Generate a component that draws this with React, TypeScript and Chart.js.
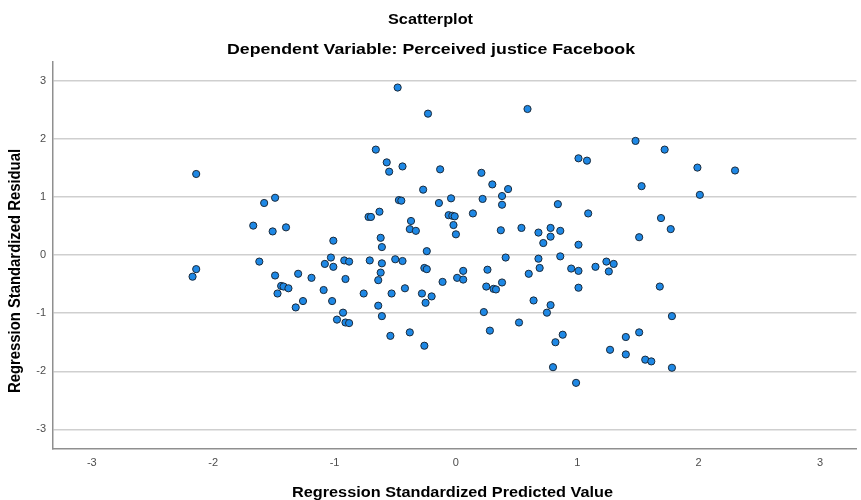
import React, { useEffect, useRef } from "react";
import { Chart, registerables } from "chart.js";

Chart.register(...registerables);

// Regression standardized predicted values (x) and residuals (y)
const predicted: number[] = [
  -2.17, -2.14, -2.14, -1.67, -1.62, -1.58, -1.51, -1.49, -1.49, -1.47,
  -1.44, -1.42, -1.40, -1.38, -1.32, -1.30, -1.26, -1.19, -1.09, -1.08,
  -1.03, -1.02, -1.01, -1.01, -0.98, -0.93, -0.92, -0.91, -0.91, -0.88,
  -0.88, -0.76, -0.72, -0.70, -0.71, -0.66, -0.64, -0.64, -0.63, -0.62,
  -0.62, -0.61, -0.61, -0.61, -0.57, -0.55, -0.54, -0.53, -0.50, -0.48,
  -0.47, -0.45, -0.44, -0.44, -0.42, -0.38, -0.38, -0.37, -0.33, -0.28,
  -0.27, -0.26, -0.26, -0.25, -0.24, -0.24, -0.23, -0.20, -0.14, -0.13,
  -0.11, -0.06, -0.04, -0.03, -0.02, -0.01, 0.00, 0.01, 0.06, 0.06,
  0.14, 0.21, 0.22, 0.23, 0.25, 0.26, 0.28, 0.30, 0.31, 0.33,
  0.37, 0.38, 0.38, 0.38, 0.41, 0.43, 0.52, 0.54, 0.59, 0.60,
  0.64, 0.68, 0.68, 0.69, 0.72, 0.75, 0.78, 0.78, 0.78, 0.80,
  0.82, 0.84, 0.86, 0.86, 0.88, 0.95, 0.99, 1.01, 1.01, 1.01,
  1.01, 1.08, 1.09, 1.15, 1.24, 1.26, 1.30, 1.27, 1.40, 1.40,
  1.48, 1.51, 1.51, 1.53, 1.56, 1.61, 1.68, 1.69, 1.72, 1.77,
  1.78, 1.78, 1.99, 2.01, 2.30,
];
const residual: number[] = [
  -0.37, -0.24, 1.40, 0.51, -0.11, 0.90, 0.41, 0.99, -0.35, -0.66,
  -0.53, -0.54, 0.48, -0.57, -0.90, -0.32, -0.79, -0.39, -0.60, -0.15,
  -0.04, -0.79, 0.25, -0.20, -1.11, -0.99, -0.09, -1.16, -0.41, -0.11,
  -1.17, -0.66, 0.66, 0.66, -0.09, 1.82, -0.43, -0.87, 0.75, 0.30,
  -0.30, 0.14, -0.14, -1.05, 1.60, 1.44, -1.39, -0.66, -0.07, 2.89,
  0.95, 0.94, 1.53, -0.10, -0.57, 0.45, -1.33, 0.59, 0.42, -0.66,
  1.13, -0.22, -1.56, -0.82, -0.24, 0.07, 2.44, -0.71, 0.90, 1.48,
  -0.46, 0.69, 0.98, 0.68, 0.52, 0.67, 0.36, -0.39, -0.27, -0.42,
  0.72, 1.42, 0.97, -0.98, -0.54, -0.25, -1.30, 1.22, -0.58, -0.59,
  0.43, 1.02, 0.87, -0.47, -0.04, 1.14, -1.16, 0.47, 2.52, -0.32,
  -0.78, 0.39, -0.06, -0.22, 0.21, -0.99, 0.47, 0.32, -0.86, -1.93,
  -1.50, 0.88, 0.42, -0.02, -1.37, -0.23, -2.20, 1.67, 0.18, -0.27,
  -0.56, 1.63, 0.72, -0.20, -0.11, -0.28, -0.15, -1.63, -1.41, -1.71,
  1.97, 0.31, -1.33, 1.19, -1.80, -1.83, -0.54, 0.64, 1.82, 0.45,
  -1.05, -1.94, 1.51, 1.04, 1.46,
];

const xTicks: number[] = [-3, -2, -1, 0, 1, 2, 3];
const yTicks: number[] = [-3, -2, -1, 0, 1, 2, 3];

const titleText = "Scatterplot";
const subtitleText = "Dependent Variable: Perceived justice Facebook";
const xTitleText = "Regression Standardized Predicted Value";
const yTitleText = "Regression Standardized Residual";

const FONT = '"Liberation Sans", Arial, sans-serif';

const textPlugin = {
  id: "stretchedTitles",
  afterDraw(chart: any) {
    const ctx: CanvasRenderingContext2D = chart.ctx;
    const drawH = (text: string, cx: number, baseY: number, size: number, targetW: number) => {
      ctx.save();
      ctx.font = `bold ${size}px ${FONT}`;
      ctx.fillStyle = "#000000";
      ctx.textAlign = "center";
      ctx.textBaseline = "alphabetic";
      const w = ctx.measureText(text).width;
      ctx.translate(cx, baseY);
      ctx.scale(targetW / w, 1);
      ctx.fillText(text, 0, 0);
      ctx.restore();
    };
    drawH(titleText, 430.5, 23.5, 14.5, 85);
    drawH(subtitleText, 431, 54, 14.5, 408);
    drawH(xTitleText, 452.5, 497, 14.5, 321);

    // rotated y title, glyphs widened horizontally like the reference
    ctx.save();
    ctx.font = `bold 14.5px ${FONT}`;
    ctx.fillStyle = "#000000";
    ctx.textAlign = "center";
    ctx.textBaseline = "alphabetic";
    const w = ctx.measureText(yTitleText).width;
    ctx.translate(19.5, 271);
    ctx.scale(1.15, 1);
    ctx.rotate(-Math.PI / 2);
    ctx.scale(244 / w, 1);
    ctx.fillText(yTitleText, 0, 0);
    ctx.restore();
  },
};

export default function App() {
  const ref = useRef<HTMLCanvasElement | null>(null);

  useEffect(() => {
    document.body.style.margin = "0";
    const canvas = ref.current;
    if (!canvas) return;
    const points = predicted.map((x, i) => ({ x, y: residual[i] }));
    const chart = new Chart(canvas, {
      type: "scatter",
      data: {
        datasets: [
          {
            data: points,
            pointRadius: 3.6,
            pointHoverRadius: 3.6,
            pointBorderWidth: 1,
            pointBackgroundColor: "#1e88e5",
            pointBorderColor: "#1b2a3a",
          },
        ],
      },
      options: {
        responsive: false,
        animation: false,
        devicePixelRatio: 1,
        layout: { padding: { top: 62, right: 0, left: 0, bottom: 0 } },
        plugins: {
          legend: { display: false },
          tooltip: { enabled: false },
          title: { display: false },
        },
        scales: {
          x: {
            type: "linear",
            min: -3.32,
            max: 3.3,
            afterBuildTicks: (s: any) => {
              s.ticks = xTicks.map((v) => ({ value: v }));
            },
            afterFit: (s: any) => {
              s.height = 51;
              s.paddingLeft = 0;
              s.paddingRight = 0;
            },
            grid: { display: false, drawTicks: false },
            border: { display: true, color: "#8f8f8f", width: 1.5 },
            ticks: {
              padding: 7,
              color: "#4d4d4d",
              font: { family: FONT, size: 11 },
              maxRotation: 0,
              autoSkip: false,
            },
          },
          y: {
            type: "linear",
            min: -3.34,
            max: 3.33,
            afterBuildTicks: (s: any) => {
              s.ticks = yTicks.map((v) => ({ value: v }));
            },
            afterFit: (s: any) => {
              s.width = 53;
              s.paddingTop = 0;
              s.paddingBottom = 0;
            },
            grid: { display: true, drawTicks: false, color: "#cfcfcf", lineWidth: 1.5 },
            border: { display: true, color: "#8f8f8f", width: 1.5 },
            ticks: {
              padding: 7,
              color: "#4d4d4d",
              font: { family: FONT, size: 11 },
              autoSkip: false,
            },
          },
        },
      },
      plugins: [textPlugin],
    });
    return () => chart.destroy();
  }, []);

  return (
    <div style={{ position: "absolute", left: 0, top: 0, width: 861, height: 500, background: "#ffffff" }}>
      <canvas ref={ref} width={861} height={500} style={{ display: "block", width: 861, height: 500 }} />
    </div>
  );
}
